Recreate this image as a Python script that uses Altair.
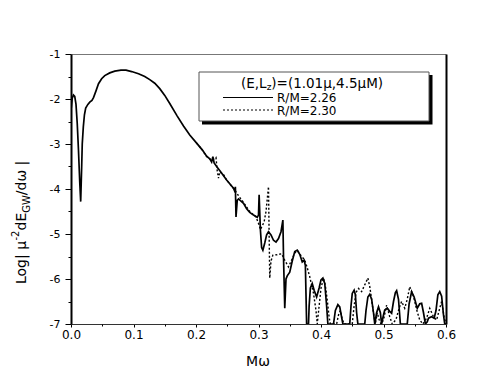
import altair as alt
import pandas as pd

# ---- data ----
solid_x = [0.000, 0.002, 0.004, 0.006, 0.008, 0.010, 0.012, 0.014, 0.0155, 0.017, 0.018, 0.0197, 0.0215, 0.0235,
           0.027, 0.030, 0.0335, 0.036, 0.040, 0.044, 0.049, 0.054, 0.062, 0.070, 0.080, 0.088, 0.097, 0.108,
           0.118, 0.126, 0.134, 0.142, 0.150, 0.158, 0.170, 0.180, 0.190, 0.201, 0.210, 0.217, 0.222, 0.225,
           0.227, 0.229, 0.233, 0.240, 0.249, 0.255, 0.260, 0.262, 0.263, 0.264, 0.266, 0.268, 0.272, 0.276,
           0.281, 0.286, 0.292, 0.298, 0.300, 0.301, 0.303, 0.305, 0.307, 0.310, 0.313, 0.316, 0.320, 0.324,
           0.328, 0.332, 0.336, 0.339, 0.340, 0.342, 0.344, 0.346, 0.350, 0.354, 0.358, 0.362, 0.366, 0.370,
           0.373, 0.375, 0.377, 0.380, 0.381, 0.383, 0.386, 0.389, 0.393, 0.397, 0.400, 0.403, 0.406, 0.409,
           0.411, 0.414, 0.420, 0.423, 0.427, 0.430, 0.433, 0.435, 0.446, 0.448, 0.450, 0.453, 0.455, 0.457,
           0.459, 0.470, 0.472, 0.475, 0.478, 0.481, 0.484, 0.486, 0.489, 0.492, 0.495, 0.497, 0.500, 0.502,
           0.506, 0.510, 0.513, 0.516, 0.519, 0.521, 0.524, 0.527, 0.538, 0.541, 0.545, 0.549, 0.554, 0.558,
           0.561, 0.564, 0.567, 0.570, 0.572, 0.577, 0.581, 0.584, 0.587, 0.590, 0.593, 0.596, 0.598, 0.600]
solid_y = [-2.25, -1.98, -1.91, -1.94, -2.12, -2.55, -3.15, -3.85, -4.28, -3.55, -3.00, -2.62, -2.35, -2.20,
           -2.12, -2.07, -2.03, -1.97, -1.82, -1.66, -1.55, -1.48, -1.42, -1.38, -1.36, -1.36, -1.39, -1.44,
           -1.50, -1.57, -1.65, -1.77, -1.92, -2.10, -2.38, -2.60, -2.80, -2.98, -3.13, -3.27, -3.33, -3.40,
           -3.28, -3.42, -3.50, -3.63, -3.80, -3.90, -3.98, -4.05, -3.95, -4.62, -4.25, -4.22, -4.27, -4.32,
           -4.44, -4.52, -4.58, -4.63, -4.58, -4.13, -4.90, -5.30, -5.36, -5.20, -5.02, -4.95, -5.02, -5.14,
           -5.18, -5.10, -4.95, -4.69, -5.50, -6.65, -6.00, -5.93, -5.85, -5.60, -5.39, -5.36, -5.45, -5.62,
           -5.58, -5.70, -7.00, -7.00, -6.60, -6.20, -6.10, -6.25, -6.40, -6.20, -6.02, -5.98, -6.10, -6.60,
           -7.00, -7.00, -7.00, -6.70, -6.57, -6.62, -6.85, -7.00, -7.00, -6.60, -6.32, -6.25, -6.35, -6.75,
           -7.00, -7.00, -6.70, -6.40, -6.34, -6.45, -6.75, -7.00, -6.75, -6.62, -6.75, -7.00, -6.80, -6.69,
           -6.65, -6.72, -6.76, -6.50, -6.30, -6.26, -6.45, -7.00, -7.00, -6.55, -6.28, -6.40, -6.65, -6.55,
           -6.54, -6.75, -7.00, -6.95, -6.87, -6.84, -6.87, -6.70, -6.35, -6.28, -6.38, -6.80, -7.00, -7.00]

dot_x = [0.201, 0.210, 0.217, 0.225, 0.232, 0.234, 0.236, 0.238, 0.244, 0.249, 0.256, 0.262, 0.268, 0.276,
         0.286, 0.296, 0.301, 0.303, 0.306, 0.309, 0.312, 0.316, 0.317, 0.318, 0.320, 0.323, 0.330, 0.337,
         0.342, 0.348, 0.353, 0.358, 0.363, 0.368, 0.374, 0.378, 0.382, 0.388, 0.392, 0.394, 0.397, 0.400,
         0.404, 0.407, 0.410, 0.413, 0.415, 0.425, 0.428, 0.431, 0.434, 0.437, 0.450, 0.453, 0.456, 0.460,
         0.465, 0.470, 0.475, 0.478, 0.481, 0.484, 0.487, 0.490, 0.493, 0.496, 0.500, 0.505, 0.510, 0.514,
         0.520, 0.525, 0.529, 0.534, 0.538, 0.542, 0.548, 0.554, 0.558, 0.563, 0.569, 0.574, 0.580, 0.585,
         0.589, 0.593, 0.597, 0.600]
dot_y = [-2.98, -3.13, -3.28, -3.36, -3.30, -3.60, -3.76, -3.62, -3.68, -3.80, -3.92, -4.02, -4.15, -4.30,
         -4.50, -4.62, -4.80, -4.90, -4.82, -4.73, -4.50, -3.95, -5.00, -5.98, -5.60, -5.47, -5.46, -5.44,
         -5.58, -5.73, -5.58, -5.42, -5.38, -5.48, -5.58, -5.75, -5.95, -6.32, -6.70, -7.00, -6.60, -6.20,
         -5.98, -6.15, -6.47, -6.85, -7.00, -7.00, -6.80, -6.70, -6.90, -7.00, -7.00, -6.60, -6.30, -6.21,
         -6.28, -6.13, -5.98, -6.17, -6.45, -6.76, -7.00, -6.75, -6.90, -7.00, -6.91, -6.58, -6.84, -7.00,
         -6.90, -6.65, -6.50, -6.65, -6.45, -6.17, -6.39, -6.73, -6.91, -7.00, -6.87, -6.65, -6.84, -6.91,
         -6.70, -6.50, -6.85, -7.00]

x_ticks = [0.0, 0.1, 0.2, 0.3, 0.4, 0.5, 0.6]
x_minor = [0.05, 0.15, 0.25, 0.35, 0.45, 0.55]
y_ticks = [-1, -2, -3, -4, -5, -6, -7]
y_minor = [-1.5, -2.5, -3.5, -4.5, -5.5, -6.5]

legend_head = ["(E,L", "z", ")=(1.01\u03bc,4.5\u03bcM)"]
series_labels = ["R/M=2.26", "R/M=2.30"]
x_title = "M\u03c9"
y_title_parts = ["Log| \u03bc", "-2", "dE", "GW", "/d\u03c9 |"]

FONT = "DejaVu Sans"

solid_df = pd.DataFrame({"x": solid_x, "y": solid_y})
dot_df = pd.DataFrame({"x": dot_x, "y": dot_y})
one = pd.DataFrame({"a": [0]})

xs = alt.Scale(domain=[0, 0.6], nice=False, zero=False)
ys = alt.Scale(domain=[-7, -1], nice=False, zero=False)

solid = alt.Chart(solid_df).mark_line(color="black", strokeWidth=1.7, clip=True).encode(
    x=alt.X("x:Q", scale=xs, axis=alt.Axis(orient="bottom", values=x_ticks, format=".1f", title=None,
                                           grid=False, tickSize=3, tickColor="black", domainColor="#333",
                                           domainWidth=1, labelFont=FONT, labelFontSize=12,
                                           labelColor="black", labelPadding=2, labelFlush=False)),
    y=alt.Y("y:Q", scale=ys, axis=alt.Axis(orient="left", values=y_ticks, title=None, grid=False,
                                           tickSize=6, tickColor="black", domainColor="black",
                                           domainWidth=2, labelFont=FONT, labelFontSize=11,
                                           labelColor="black", labelPadding=5, labelFlush=False,
                                           labelExpr="'-' + abs(datum.value)")),
)

dotted = alt.Chart(dot_df).mark_line(color="black", strokeWidth=1.4, strokeDash=[2, 2], clip=True).encode(
    x=alt.X("x:Q", scale=xs, axis=alt.Axis(orient="bottom", values=x_minor, title=None, grid=False,
                                           labels=False, domain=False, tickSize=2, tickColor="black")),
    y=alt.Y("y:Q", scale=ys, axis=alt.Axis(orient="left", values=y_minor, title=None, grid=False,
                                           labels=False, domain=False, tickSize=3, tickColor="black")),
)

frame = alt.Chart(solid_df).mark_point(opacity=0).encode(
    x=alt.X("x:Q", scale=xs, axis=alt.Axis(orient="top", title=None, grid=False, labels=False,
                                           ticks=False, domainColor="#777", domainWidth=1)),
    y=alt.Y("y:Q", scale=ys, axis=alt.Axis(orient="right", title=None, grid=False, labels=False,
                                           ticks=False, domainColor="black", domainWidth=2)),
)

# legend box with shadow
shadow = alt.Chart(one).mark_rect(color="black").encode(
    x=alt.value(131), x2=alt.value(361.5), y=alt.value(21), y2=alt.value(70.5))
box = alt.Chart(one).mark_rect(fill="white", stroke="#555", strokeWidth=1).encode(
    x=alt.value(128), x2=alt.value(358), y=alt.value(18), y2=alt.value(67))

head1 = alt.Chart(one).mark_text(font=FONT, fontSize=13.5, align="left", baseline="middle").encode(
    x=alt.value(170), y=alt.value(29.5), text=alt.value(legend_head[0]))
head2 = alt.Chart(one).mark_text(font=FONT, fontSize=9, align="left", baseline="middle").encode(
    x=alt.value(195.8), y=alt.value(33), text=alt.value(legend_head[1]))
head3 = alt.Chart(one).mark_text(font=FONT, fontSize=13.5, align="left", baseline="middle").encode(
    x=alt.value(200.3), y=alt.value(29.5), text=alt.value(legend_head[2]))

rule1 = alt.Chart(one).mark_rule(color="black", strokeWidth=1.2).encode(
    x=alt.value(152), x2=alt.value(202), y=alt.value(43.5))
rule2 = alt.Chart(one).mark_rule(color="black", strokeWidth=1.2, strokeDash=[2, 2]).encode(
    x=alt.value(152), x2=alt.value(202), y=alt.value(56))
lab1 = alt.Chart(one).mark_text(font=FONT, fontSize=12, align="left", baseline="middle").encode(
    x=alt.value(206), y=alt.value(43.5), text=alt.value(series_labels[0]))
lab2 = alt.Chart(one).mark_text(font=FONT, fontSize=12, align="left", baseline="middle").encode(
    x=alt.value(206), y=alt.value(56.5), text=alt.value(series_labels[1]))

xt = alt.Chart(one).mark_text(font=FONT, fontSize=14, align="center", baseline="middle").encode(
    x=alt.value(187), y=alt.value(308), text=alt.value(x_title))

# rotated y title assembled from parts (sub/superscripts)
yparts = []
specs = [  # (text, x, y, size)
    (y_title_parts[0], -45, 230, 14),
    (y_title_parts[1], -52, 186.5, 10),
    (y_title_parts[2], -45, 176.5, 14),
    (y_title_parts[3], -41, 158.8, 10),
    (y_title_parts[4], -45, 141.2, 14),
]
for t, px, py, sz in specs:
    yparts.append(alt.Chart(one).mark_text(font=FONT, fontSize=sz, align="left", baseline="alphabetic",
                                           angle=270).encode(
        x=alt.value(px), y=alt.value(py), text=alt.value(t)))

chart = alt.layer(
    solid, dotted, frame, shadow, box, head1, head2, head3, rule1, rule2, lab1, lab2, xt, *yparts
).resolve_axis(x="independent", y="independent").properties(
    width=375, height=270,
    padding={"left": 63, "top": 46, "right": 37, "bottom": 50},
    autosize=alt.AutoSizeParams(type="none"),
    background="white",
).configure_view(stroke=None)

chart.save("out.html", embed_options={"renderer": "svg", "actions": False})
